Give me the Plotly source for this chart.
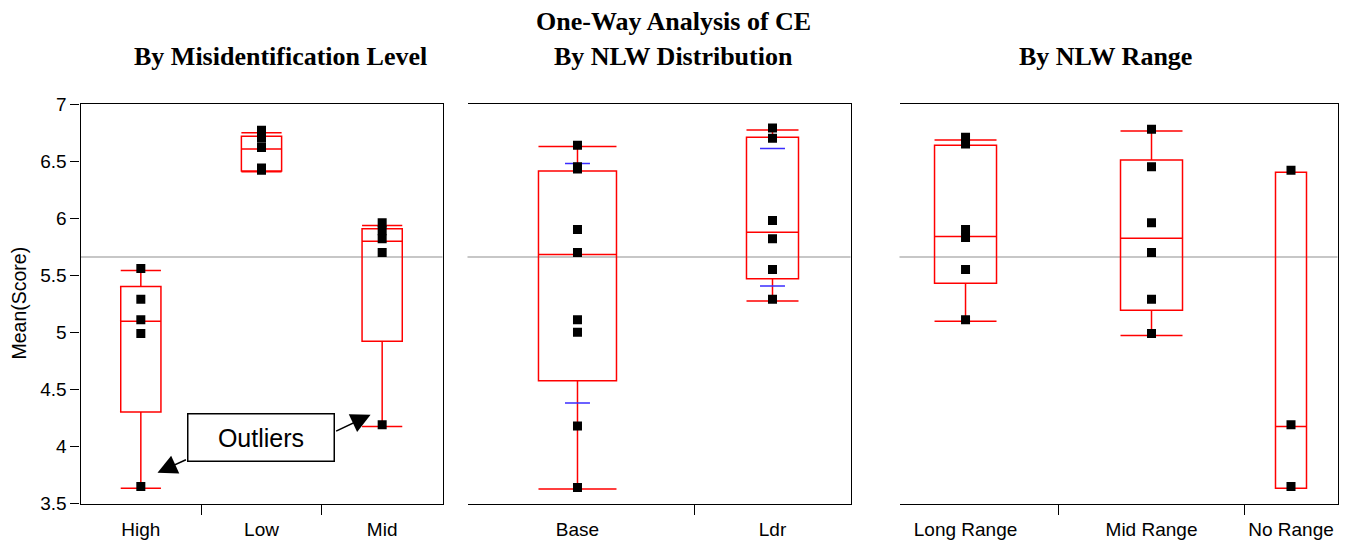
import plotly.graph_objects as go

W, H = 1350, 543

# ---------------- data ----------------
# Panel 1: By Misidentification Level
mis_cats = ["High", "Low", "Mid"]
mis_points = [
    [5.56, 5.29, 5.11, 4.99, 3.65],
    [6.77, 6.70, 6.62, 6.44, 6.42],
    [5.96, 5.89, 5.82, 5.70, 4.19],
]
mis_lower = [3.634, 6.406, 4.175]
mis_q1 = [4.303, 6.414, 4.922]
mis_median = [5.097, 6.606, 5.798]
mis_q3 = [5.402, 6.717, 5.908]
mis_upper = [5.542, 6.749, 5.937]

# Panel 2: By NLW Distribution
dist_cats = ["Base", "Ldr"]
dist_points = [
    [6.64, 6.45, 6.43, 5.90, 5.70, 5.11, 5.00, 4.18, 3.64],
    [6.79, 6.70, 5.98, 5.82, 5.55, 5.29],
]
dist_lower = [3.628, 5.274]
dist_q1 = [4.576, 5.469]
dist_median = [5.682, 5.876]
dist_q3 = [6.414, 6.708]
dist_upper = [6.627, 6.772]
dist_sd_upper = [6.48, 6.61]
dist_sd_lower = [4.38, 5.405]

# Panel 3: By NLW Range
rng_cats = ["Long Range", "Mid Range", "No Range"]
rng_points = [
    [6.71, 6.65, 5.90, 5.83, 5.55, 5.11],
    [6.78, 6.45, 5.96, 5.70, 5.29, 4.99],
    [6.42, 4.19, 3.65],
]
rng_lower = [5.097, 4.972, 3.634]
rng_q1 = [5.431, 5.193, 3.634]
rng_median = [5.839, 5.824, 4.175]
rng_q3 = [6.638, 6.510, 6.403]
rng_upper = [6.685, 6.764, 6.403]

grand_mean = 5.66
y_tick_vals = [3.5, 4, 4.5, 5, 5.5, 6, 6.5, 7]
y_tick_text = ["3.5", "4", "4.5", "5", "5.5", "6", "6.5", "7"]

main_title = "One-Way Analysis of CE"
panel_titles = ["By Misidentification Level", "By NLW Distribution", "By NLW Range"]
y_label = "Mean(Score)"
note_text = "Outliers"

# ---------------- styling ----------------
RED = "#ff0000"
BLUE = "#3a2cff"
SANS = "Liberation Sans"
SERIF = "Liberation Serif"

# page placement calibration (target pixel -> paper fraction)
X_OFF = 7.5
Y_OFF, Y_SPAN = 17.25, 523.3


def px_x(p):
    return (p - X_OFF) / W


def px_y(p):
    return 1 - (p - Y_OFF) / Y_SPAN


def layout_positions(points):
    counts = [len(p) for p in points]
    bounds, centers, acc = [], [], 0
    for c in counts:
        centers.append(acc + c / 2)
        acc += c
        bounds.append(acc)
    return counts, centers, bounds[:-1]


fig = go.Figure()

panels = [
    dict(cats=mis_cats, pts=mis_points, lo=mis_lower, q1=mis_q1, med=mis_median,
         q3=mis_q3, hi=mis_upper, xa="x", ya="y", start=0.0),
    dict(cats=dist_cats, pts=dist_points, lo=dist_lower, q1=dist_q1, med=dist_median,
         q3=dist_q3, hi=dist_upper, xa="x2", ya="y2", start=0.27),
    dict(cats=rng_cats, pts=rng_points, lo=rng_lower, q1=rng_q1, med=rng_median,
         q3=rng_q3, hi=rng_upper, xa="x3", ya="y3", start=0.87),
]

for pn in panels:
    counts, centers, bounds = layout_positions(pn["pts"])
    pn["centers"], pn["bounds"], pn["total"] = centers, bounds, sum(counts)
    for i, cat in enumerate(pn["cats"]):
        fig.add_trace(go.Box(
            x=[centers[i]], q1=[pn["q1"][i]], median=[pn["med"][i]], q3=[pn["q3"][i]],
            lowerfence=[pn["lo"][i]], upperfence=[pn["hi"][i]],
            width=counts[i] / 3, whiskerwidth=1, boxpoints=False,
            line=dict(color=RED, width=1.5), fillcolor="rgba(0,0,0,0)",
            xaxis=pn["xa"], yaxis=pn["ya"], name=cat, showlegend=False,
            hoverinfo="skip",
        ))

# std-dev lines (middle panel)
c2 = panels[1]["centers"]
sx, sy = [], []
for i in range(len(dist_cats)):
    for v in (dist_sd_upper[i], dist_sd_lower[i]):
        sx += [c2[i] - 0.48, c2[i] + 0.48, None]
        sy += [v, v, None]
fig.add_trace(go.Scatter(x=sx, y=sy, mode="lines", line=dict(color=BLUE, width=1.5),
                         xaxis="x2", yaxis="y2", showlegend=False, hoverinfo="skip"))

# data points
for pn in panels:
    xs, ys = [], []
    for i, pts in enumerate(pn["pts"]):
        xs += [pn["centers"][i]] * len(pts)
        ys += pts
    fig.add_trace(go.Scatter(x=xs, y=ys, mode="markers",
                             marker=dict(symbol="square", size=9, color="black"),
                             xaxis=pn["xa"], yaxis=pn["ya"], showlegend=False,
                             hoverinfo="skip"))

domains = [[px_x(80), px_x(442)], [px_x(467), px_x(850)], [px_x(899), px_x(1337)]]
ydom = [px_y(504), px_y(103.5)]

axis_line = dict(showline=True, linecolor="black", linewidth=1.3, showgrid=False, zeroline=False)
tick_font = dict(family=SANS, size=19, color="black")

lay = {}
for k, pn in enumerate(panels):
    sfx = "" if k == 0 else str(k + 1)
    lay["xaxis" + sfx] = dict(
        domain=domains[k], range=[pn["start"], pn["total"]], anchor="y" + sfx,
        tickmode="array", tickvals=pn["centers"], ticktext=pn["cats"], ticks="",
        tickfont=tick_font, ticklabelstandoff=9,
        mirror=True,
        minor=dict(tickmode="array", tickvals=pn["bounds"], ticks="outside", ticklen=10,
                   tickcolor="black", tickwidth=1.3, showgrid=False),
        fixedrange=True, **axis_line)
    if k == 0:
        lay["yaxis"] = dict(
            domain=ydom, range=[3.5, 7], anchor="x", tickmode="array",
            tickvals=y_tick_vals, ticktext=y_tick_text, ticks="outside", ticklen=9,
            tickcolor="black", tickwidth=1.3, tickfont=tick_font, mirror=True,
            fixedrange=True, **axis_line)
    else:
        lay["yaxis" + sfx] = dict(
            domain=ydom, range=[3.5, 7], anchor="x" + sfx, side="right",
            showticklabels=False, ticks="", mirror=False, fixedrange=True, **axis_line)

fig.update_layout(
    width=W, height=H, margin=dict(l=0, r=0, t=0, b=0),
    paper_bgcolor="white", plot_bgcolor="white", showlegend=False,
    **lay,
)

# grand-mean lines
for k in range(3):
    sfx = "" if k == 0 else str(k + 1)
    fig.add_shape(type="line", xref=("x" + sfx) + " domain", x0=0, x1=1,
                  yref="y" + sfx, y0=grand_mean, y1=grand_mean,
                  line=dict(color="#b4b4b4", width=1.5), layer="below")

# titles
title_font = dict(family=SERIF, size=26, color="black")
fig.add_annotation(text="<b>%s</b>" % main_title, x=px_x(673), y=px_y(21), xref="paper",
                   yref="paper", showarrow=False, font=title_font,
                   xanchor="center", yanchor="middle")
for t, cx in zip(panel_titles, [280, 672.5, 1105]):
    fig.add_annotation(text="<b>%s</b>" % t, x=px_x(cx), y=px_y(55.5), xref="paper",
                       yref="paper", showarrow=False, font=title_font,
                       xanchor="center", yanchor="middle")

# y axis label
fig.add_annotation(text=y_label, x=px_x(19), y=px_y(303), xref="paper", yref="paper",
                   showarrow=False, textangle=-90,
                   font=dict(family=SANS, size=19.5, color="black"),
                   xanchor="center", yanchor="middle")

# outlier arrows and box
for (tx, ty, axx, ayy) in [(3.19, 3.77, 4.43, 3.89), (12.02, 4.277, 10.53, 4.128)]:
    fig.add_annotation(text="", x=tx, y=ty, xref="x", yref="y", ax=axx, ay=ayy,
                       axref="x", ayref="y", showarrow=True, arrowhead=2,
                       arrowsize=2.6, arrowwidth=1.5, arrowcolor="black", standoff=0)
fig.add_annotation(text=note_text, x=7.47, y=4.08, xref="x", yref="y", showarrow=False,
                   font=dict(family=SANS, size=25, color="black"),
                   bgcolor="white", bordercolor="black", borderwidth=1.5, borderpad=2,
                   width=141, height=42, xanchor="center", yanchor="middle")

fig.write_html("out.html")
